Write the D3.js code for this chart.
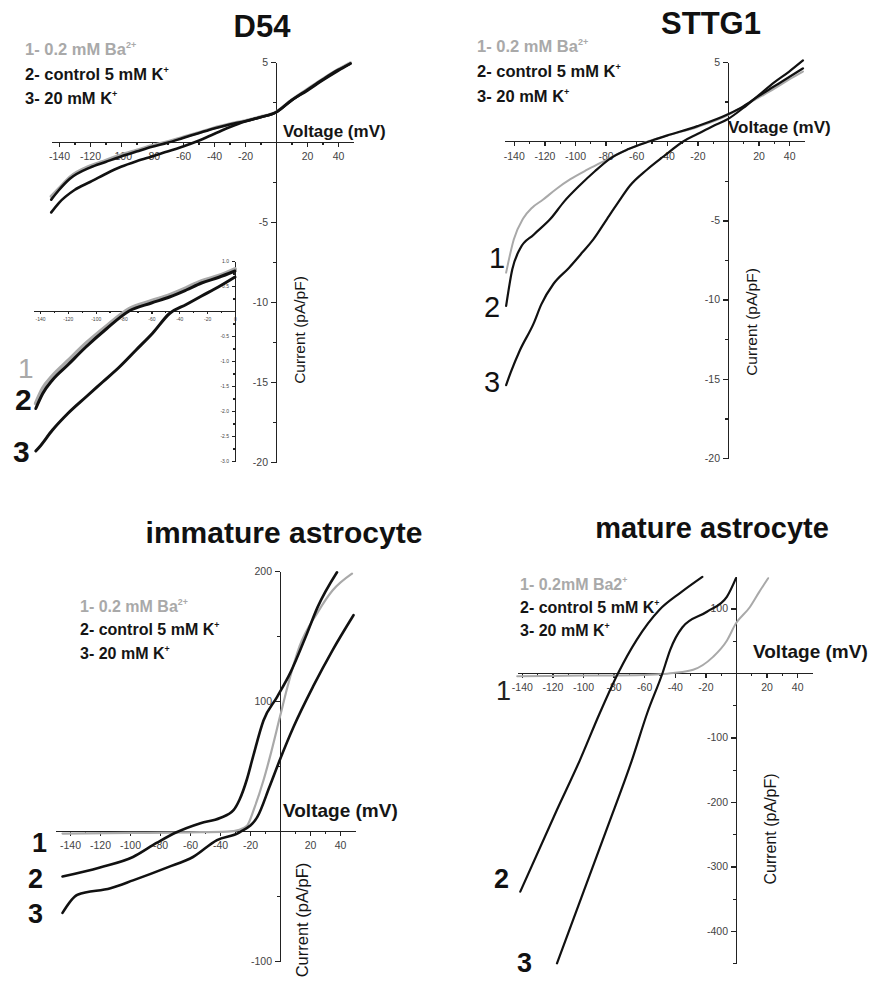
<!DOCTYPE html>
<html lang="en">
<head>
<meta charset="UTF-8">
<title>I-V curves</title>
<script src="https://d3js.org/d3.v7.min.js"></script>
<style>
  body { margin: 0; background: #fff; }
  svg text { font-family: 'Liberation Sans', Arial, Helvetica, sans-serif; }
  .axis path, .axis line { stroke: #222; stroke-width: 1.3; shape-rendering: crispEdges; }
  .axis text { fill: #444; font-size: 10.5px; }
  .inset .axis text { font-size: 5px; }
  .trace { fill: none; stroke-linejoin: round; stroke-linecap: round; }
</style>
</head>
<body>
<div id="chart"></div>
<script>
// ---- data: [voltage (mV), current (pA/pF)] ----
const d54Ba = [[-145,-3.4],[-140,-2.9],[-133,-2.2],[-120,-1.5],[-110,-1.15],[-100,-0.82],[-90,-0.52],[-80,-0.22],[-70,0.02],[-60,0.3],[-50,0.58],[-40,0.88],[-30,1.12],[-20,1.33],[-10,1.57],[0,1.87],[10,2.62],[20,3.27],[30,3.92],[40,4.52],[48,4.95]];
const d54Control = [[-145,-3.6],[-140,-3.0],[-133,-2.3],[-120,-1.6],[-110,-1.25],[-100,-0.9],[-90,-0.6],[-80,-0.3],[-70,-0.05],[-60,0.25],[-50,0.55],[-40,0.85],[-30,1.1],[-20,1.3],[-10,1.55],[0,1.85],[10,2.6],[20,3.25],[30,3.9],[40,4.5],[48,4.9]];
const d54K20 = [[-145,-4.4],[-140,-3.8],[-130,-3.0],[-120,-2.5],[-110,-2.0],[-100,-1.55],[-90,-1.2],[-80,-0.9],[-70,-0.6],[-60,-0.28],[-50,0.08],[-40,0.5],[-30,0.92],[-20,1.28],[-10,1.55],[0,1.85],[10,2.6],[20,3.2],[30,3.85],[40,4.45],[48,4.9]];

const insetBa = [[-143,-1.85],[-138,-1.55],[-131,-1.3],[-120,-1.0],[-107,-0.65],[-92,-0.3],[-76,0.04],[-60,0.2],[-47,0.32],[-35,0.46],[-24,0.6],[-12,0.7],[0,0.84]];
const insetControl = [[-143,-1.95],[-138,-1.65],[-131,-1.38],[-120,-1.08],[-107,-0.72],[-92,-0.35],[-76,0],[-60,0.16],[-47,0.28],[-35,0.42],[-24,0.56],[-12,0.67],[0,0.8]];
const insetK20 = [[-143,-2.8],[-141,-2.74],[-131,-2.38],[-120,-2.05],[-107,-1.72],[-95,-1.42],[-83,-1.12],[-71,-0.78],[-59,-0.44],[-47,-0.05],[-35,0.13],[-24,0.3],[-12,0.48],[0,0.68]];

const sttg1Ba = [[-145,-8.3],[-140,-6.2],[-134,-4.9],[-128,-4.2],[-121,-3.7],[-112,-3.0],[-103,-2.4],[-92,-1.8],[-82,-1.3],[-70,-0.7],[-60,-0.3],[-52,0],[-40,0.35],[-20,0.9],[0,1.65],[10,2.2],[20,2.75],[30,3.3],[40,3.9],[49,4.4]];
const sttg1Control = [[-145,-10.4],[-141,-8.1],[-136,-6.8],[-127,-5.9],[-116,-4.9],[-107,-3.8],[-97,-2.8],[-87,-1.9],[-77,-1.1],[-65,-0.5],[-51,0],[-40,0.35],[-20,0.95],[0,1.7],[10,2.2],[20,2.85],[30,3.45],[40,4.05],[49,4.6]];
const sttg1K20 = [[-145,-15.4],[-142,-14.6],[-136,-13.2],[-127,-11.5],[-122,-10.3],[-114,-9.0],[-104,-8.0],[-95,-7.0],[-88,-6.2],[-79,-4.9],[-72,-3.9],[-64,-2.8],[-53,-1.8],[-42,-0.95],[-29,0],[-20,0.45],[-10,0.95],[0,1.4],[10,2.1],[20,2.9],[30,3.7],[40,4.4],[49,5.1]];

const immBa = [[-145,-2],[-100,-1.5],[-60,-1],[-35,-0.5],[-27,1],[-22,4],[-17,18],[-11,39],[-6.7,57],[0,88],[5,111],[13,142],[25,168],[35,185],[48,198]];
const immControl = [[-145,-35],[-120,-28],[-98,-20],[-82,-9],[-69,-1],[-53,6],[-40,10],[-31,16],[-27,24],[-22,40],[-18,57],[-11,85],[-2,103],[7,122],[18,152],[25,172],[38,199]];
const immK20 = [[-145,-63],[-135,-49],[-113,-44],[-98,-38],[-75,-28],[-58,-20],[-42,-7],[-27,-1],[-15,11],[-7,34],[0,55],[9,80],[22,111],[35,139],[49,166]];

const matBa = [[-143,-5],[-100,-4],[-60,-3],[-45,-1],[-41,0],[-28,5],[-15,25],[-6,50],[0,77],[9,102],[15,125],[21,147]];
const matControl = [[-141,-339],[-117,-212],[-102,-135],[-89,-62],[-77,0],[-65,51],[-50,98],[-36,125],[-22,149]];
const matK20 = [[-117,-450],[-84,-239],[-68,-135],[-58,-62],[-48,0],[-43,36],[-35,71],[-19,95],[-6,118],[0,147]];

// ---- ticks and labels ----
const voltageTicks = [-140,-120,-100,-80,-60,-40,-20,0,20,40];
const voltageMinor = [-130,-110,-90,-70,-50,-30,-10,10,30];
const insetVoltageTicks = [-140,-120,-100,-80,-60,-40,-20,0];
const insetVoltageMinor = [-130,-110,-90,-70,-50,-30,-10];
const smallCurrentTicks = [5,0,-5,-10,-15,-20];
const smallCurrentMinor = [2.5,-2.5,-7.5,-12.5,-17.5];
const insetCurrentTicks = [1,0.5,0,-0.5,-1,-1.5,-2,-2.5,-3];
const insetCurrentMinor = [0.75,0.25,-0.25,-0.75,-1.25,-1.75,-2.25,-2.75];
const immCurrentTicks = [200,100,0,-100];
const immCurrentMinor = [150,50,-50];
const matCurrentTicks = [100,0,-100,-200,-300,-400];
const matCurrentMinor = [50,-50,-150,-250,-350,-450];

const titles = ["D54", "STTG1", "immature astrocyte", "mature astrocyte"];
const legendText = [["1- 0.2 mM Ba", "2+"], ["2- control 5 mM K", "+"], ["3- 20 mM K", "+"]];
const legendTextMature = [["1- 0.2mM Ba2", "+"], ["2- control 5 mM K", "+"], ["3- 20 mM K", "+"]];
const legendColors = ["#a9a9a9", "#151515", "#151515"];
const xLabel = "Voltage (mV)";
const yLabel = "Current (pA/pF)";

const W = 874, H = 985;
const svg = d3.select("#chart").append("svg").attr("width", W).attr("height", H);

function fmt(d) { return d === 0 ? "" : d; }

function drawPanel(p) {
    const g = svg.append("g").attr("class", p.cls || "panel");
    const x = d3.scaleLinear().domain(p.xDomain).range(p.xRange);
    const y = d3.scaleLinear().domain(p.yDomain).range(p.yRange);

    // x axis through zero current
    const xa = g.append("g").attr("class", "axis").attr("transform", "translate(0," + y(0) + ")");
    xa.call(d3.axisBottom(x).tickValues(p.xTicks).tickSize(p.tick || 5).tickSizeOuter(0).tickPadding(p.pad || 6).tickFormat(p.xFmt || fmt));
    const xm = g.append("g").attr("class", "axis").attr("transform", "translate(0," + y(0) + ")");
    xm.call(d3.axisBottom(x).tickValues(p.xMinor).tickSize((p.tick || 5) * 0.6).tickFormat(""));
    xm.select(".domain").remove();

    // y axis through zero voltage
    const ya = g.append("g").attr("class", "axis").attr("transform", "translate(" + x(0) + ",0)");
    ya.call(d3.axisLeft(y).tickValues(p.yTicks).tickSize(p.tick || 5).tickSizeOuter(0).tickPadding(3).tickFormat(p.yFmt || fmt));
    const ym = g.append("g").attr("class", "axis").attr("transform", "translate(" + x(0) + ",0)");
    ym.call(d3.axisLeft(y).tickValues(p.yMinor).tickSize((p.tick || 5) * 0.6).tickFormat(""));
    ym.select(".domain").remove();

    const line = d3.line().x(d => x(d[0])).y(d => y(d[1])).curve(d3.curveMonotoneX);
    p.series.forEach(s => {
        g.append("path").datum(s.data).attr("class", "trace")
            .attr("stroke", s.color).attr("stroke-width", s.width)
            .attr("d", line);
    });
    return g;
}

function title(text, cx, by, size) {
    svg.append("text").attr("x", cx).attr("y", by).attr("text-anchor", "middle")
        .attr("font-size", size).attr("font-weight", "bold").attr("fill", "#111").text(text);
}

function legend(x0, ys, items, size) {
    items.forEach((it, i) => {
        const t = svg.append("text").attr("x", x0).attr("y", ys[i])
            .attr("font-size", size).attr("font-weight", "bold").attr("fill", legendColors[i]);
        t.append("tspan").text(it[0]);
        t.append("tspan").attr("dy", -size * 0.45).attr("font-size", size * 0.55).text(it[1]);
    });
}

function axisTitles(vx, vy, vsize, cx, cy, csize) {
    svg.append("text").attr("x", vx).attr("y", vy).attr("font-size", vsize)
        .attr("font-weight", "bold").attr("fill", "#151515").text(xLabel);
    svg.append("text").attr("transform", "translate(" + cx + "," + cy + ") rotate(-90)")
        .attr("text-anchor", "middle").attr("font-size", csize).attr("fill", "#151515").text(yLabel);
}

function numbers(list) {
    list.forEach(n => {
        svg.append("text").attr("x", n.x).attr("y", n.y).attr("font-size", n.size)
            .attr("font-weight", n.bold ? "bold" : "normal").attr("fill", n.color || "#111").text(n.t);
    });
}

const gray = "#a9a9a9", black = "#111";

// ---- D54 ----
drawPanel({
    xDomain: [-145, 50], xRange: [51.25, 353.5], yDomain: [5, -20], yRange: [62, 462],
    xTicks: voltageTicks, xMinor: voltageMinor, yTicks: smallCurrentTicks, yMinor: smallCurrentMinor,
    series: [
        { data: d54Ba, color: gray, width: 3.2 },
        { data: d54K20, color: black, width: 2.6 },
        { data: d54Control, color: black, width: 2.6 }
    ]
});
drawPanel({
    cls: "inset",
    xDomain: [-145, 0], xRange: [33, 235], yDomain: [1, -3], yRange: [261, 461],
    xTicks: insetVoltageTicks, xMinor: insetVoltageMinor, yTicks: insetCurrentTicks, yMinor: insetCurrentMinor,
    tick: 3, pad: 3,
    xFmt: d => d, yFmt: d => d === 0 ? "" : d.toFixed(1),
    series: [
        { data: insetBa, color: gray, width: 4 },
        { data: insetK20, color: black, width: 3 },
        { data: insetControl, color: black, width: 3 }
    ]
});
title(titles[0], 262, 37, 31);
legend(25, [55, 80, 104], legendText, 16.5);
axisTitles(283, 137, 17, 305, 330, 15.5);
numbers([
    { t: "1", x: 18, y: 378, size: 28, color: gray },
    { t: "2", x: 15, y: 410, size: 30, bold: true },
    { t: "3", x: 13, y: 462, size: 30, bold: true }
]);

// ---- STTG1 ----
drawPanel({
    xDomain: [-146, 50], xRange: [504.6, 804.5], yDomain: [5, -20], yRange: [62, 458],
    xTicks: voltageTicks, xMinor: voltageMinor, yTicks: smallCurrentTicks, yMinor: smallCurrentMinor,
    series: [
        { data: sttg1Ba, color: gray, width: 2 },
        { data: sttg1Control, color: black, width: 2.2 },
        { data: sttg1K20, color: black, width: 2.2 }
    ]
});
title(titles[1], 711, 34, 31);
legend(477, [52, 77, 102], legendText, 16.5);
axisTitles(728, 133, 17, 757, 322, 15.5);
numbers([
    { t: "1", x: 489, y: 268, size: 29 },
    { t: "2", x: 484, y: 317, size: 29 },
    { t: "3", x: 484, y: 392, size: 29 }
]);

// ---- immature astrocyte ----
drawPanel({
    xDomain: [-150, 50], xRange: [55, 355], yDomain: [200, -100], yRange: [571, 961],
    xTicks: voltageTicks, xMinor: voltageMinor, yTicks: immCurrentTicks, yMinor: immCurrentMinor,
    series: [
        { data: immBa, color: gray, width: 2.2 },
        { data: immControl, color: black, width: 2.6 },
        { data: immK20, color: black, width: 2.6 }
    ]
});
title(titles[2], 284, 543, 30);
legend(80, [612, 635, 659], legendText, 16);
axisTitles(283, 817, 19, 308, 920, 16.5);
numbers([
    { t: "1", x: 32, y: 852, size: 27, bold: true },
    { t: "2", x: 28, y: 888, size: 27, bold: true },
    { t: "3", x: 28, y: 923, size: 27, bold: true }
]);

// ---- mature astrocyte ----
drawPanel({
    xDomain: [-143, 50], xRange: [517.2, 812.5], yDomain: [150, -450], yRange: [576.25, 963.25],
    xTicks: voltageTicks, xMinor: voltageMinor, yTicks: matCurrentTicks, yMinor: matCurrentMinor,
    series: [
        { data: matBa, color: gray, width: 2 },
        { data: matControl, color: black, width: 2.2 },
        { data: matK20, color: black, width: 2.2 }
    ]
});
title(titles[3], 712, 538, 29);
legend(520, [590, 613, 636], legendTextMature, 16);
axisTitles(753, 658, 19, 776, 829, 16);
numbers([
    { t: "1", x: 496, y: 700, size: 27, color: "#222" },
    { t: "2", x: 494, y: 888, size: 27, bold: true },
    { t: "3", x: 517, y: 972, size: 27, bold: true }
]);
</script>
</body>
</html>
